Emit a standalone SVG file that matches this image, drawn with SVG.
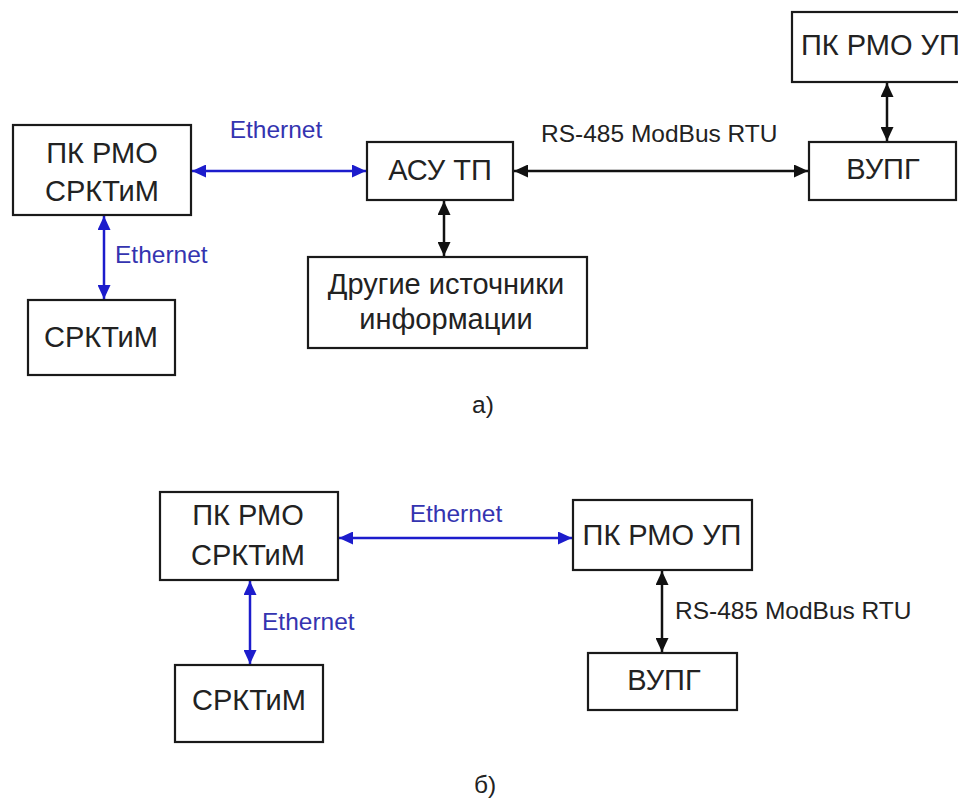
<svg xmlns="http://www.w3.org/2000/svg" width="958" height="798" viewBox="0 0 958 798">
<defs>
<style>
.box{fill:#fff;stroke:#1a1a1a;stroke-width:2.2}
.t{font-family:"Liberation Sans",Arial,sans-serif;font-size:29px;fill:#222;text-anchor:middle}
.ts{font-family:"Liberation Sans",Arial,sans-serif;font-size:29px;fill:#222;text-anchor:start}
.lb{font-family:"Liberation Sans",Arial,sans-serif;font-size:24.5px;fill:#3434b0}
.lk{font-family:"Liberation Sans",Arial,sans-serif;font-size:24.5px;fill:#222}
.cb{stroke:#1c1ccc;stroke-width:2.5;fill:none;marker-start:url(#ab);marker-end:url(#ab)}
.ck{stroke:#111;stroke-width:2.5;fill:none;marker-start:url(#ak);marker-end:url(#ak)}
</style>
<marker id="ab" markerUnits="userSpaceOnUse" markerWidth="15" markerHeight="13" refX="14" refY="6.5" orient="auto-start-reverse"><path d="M0,0 L14,6.5 L0,13 z" fill="#1c1ccc"/></marker>
<marker id="ak" markerUnits="userSpaceOnUse" markerWidth="15" markerHeight="13" refX="14" refY="6.5" orient="auto-start-reverse"><path d="M0,0 L14,6.5 L0,13 z" fill="#111"/></marker>
</defs>
<rect width="958" height="798" fill="#fff"/>

<g id="connectors">
<line class="cb" x1="192" y1="171" x2="366" y2="171"/>
<line class="cb" x1="104" y1="216" x2="104" y2="299"/>
<line class="ck" x1="514" y1="171" x2="808" y2="171"/>
<line class="ck" x1="887" y1="83" x2="887" y2="141"/>
<line class="ck" x1="444" y1="201" x2="444" y2="256"/>
<line class="cb" x1="339" y1="538" x2="572" y2="538"/>
<line class="cb" x1="250" y1="581" x2="250" y2="664"/>
<line class="ck" x1="662" y1="571" x2="662" y2="652"/>
<text class="lb" x="276" y="138" text-anchor="middle">Ethernet</text>
<text class="lb" x="115" y="263">Ethernet</text>
<text class="lk" x="541" y="142">RS-485 ModBus RTU</text>
<text class="lb" x="456" y="522" text-anchor="middle">Ethernet</text>
<text class="lb" x="262" y="630">Ethernet</text>
<text class="lk" x="675" y="619">RS-485 ModBus RTU</text>
</g>

<g id="a-pk-rmo-srktim"><rect class="box" x="13" y="125" width="178" height="90"/><text class="t" x="102" y="163">ПК РМО</text><text class="t" x="102" y="201">СРКТиМ</text></g>
<g id="a-srktim"><rect class="box" x="28" y="300" width="147" height="75"/><text class="t" x="101" y="347">СРКТиМ</text></g>
<g id="a-asu-tp"><rect class="box" x="367" y="142" width="146" height="58"/><text class="t" x="440" y="180">АСУ ТП</text></g>
<g id="a-drugie"><rect class="box" x="308" y="257" width="279" height="91"/><text class="t" x="446" y="294">Другие источники</text><text class="t" x="446" y="329">информации</text></g>
<g id="a-pk-rmo-up"><rect class="box" x="792" y="12" width="190" height="70"/><text class="ts" x="801" y="55">ПК РМО УП</text></g>
<g id="a-vupg"><rect class="box" x="809" y="142" width="147" height="58"/><text class="t" x="883" y="179">ВУПГ</text></g>
<text class="lk" x="483" y="413" text-anchor="middle">а)</text>

<g id="b-pk-rmo-srktim"><rect class="box" x="160" y="492" width="178" height="88"/><text class="t" x="248" y="525">ПК РМО</text><text class="t" x="248" y="565">СРКТиМ</text></g>
<g id="b-srktim"><rect class="box" x="175" y="665" width="148" height="77"/><text class="t" x="249" y="710">СРКТиМ</text></g>
<g id="b-pk-rmo-up"><rect class="box" x="573" y="500" width="179" height="70"/><text class="t" x="662" y="545">ПК РМО УП</text></g>
<g id="b-vupg"><rect class="box" x="588" y="653" width="149" height="57"/><text class="t" x="664" y="690">ВУПГ</text></g>
<text class="lk" x="485" y="793" text-anchor="middle">б)</text>
</svg>
